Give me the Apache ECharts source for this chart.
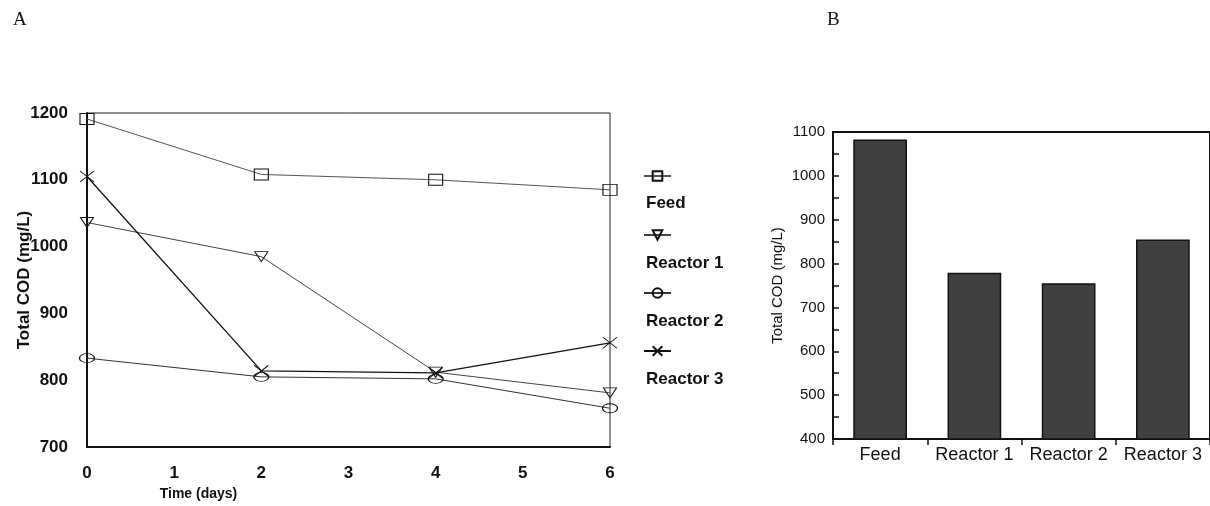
<!DOCTYPE html>
<html>
<head>
<meta charset="utf-8">
<script src="https://cdn.jsdelivr.net/npm/echarts@6/dist/echarts.min.js"></script>
<style>
  html, body { margin: 0; padding: 0; background: #fff; }
  #main { width: 1210px; height: 506px; }
</style>
</head>
<body>
<div id="main"></div>
<script>
// panel A: total COD over time
var days = [0, 2, 4, 6];
var seriesNames = ["Feed", "Reactor 1", "Reactor 2", "Reactor 3"];
var feedCod = [1191, 1108, 1100, 1085];
var reactor1Cod = [1036, 985, 812, 781];
var reactor2Cod = [833, 805, 802, 758];
var reactor3Cod = [1105, 814, 811, 856];

// panel B: average total COD
var barCategories = ["Feed", "Reactor 1", "Reactor 2", "Reactor 3"];
var barCod = [1083, 779, 755, 855];

var chart = echarts.init(document.getElementById("main"));

function pairs(xs, ys) {
  var out = [];
  for (var i = 0; i < xs.length; i++) out.push([xs[i], ys[i]]);
  return out;
}

var markers = {
  "Feed": { symbol: "rect", size: [14, 11] },
  "Reactor 1": { symbol: "triangle", size: [13, 10], rotate: 180 },
  "Reactor 2": { symbol: "circle", size: [15, 9] },
  "Reactor 3": { symbol: "path://M0,0L10,10M10,0L0,10", size: [14, 11] }
};
var lineColors = ["#555", "#444", "#333", "#111"];
var lineValues = [feedCod, reactor1Cod, reactor2Cod, reactor3Cod];

var series = [];
for (var i = 0; i < seriesNames.length; i++) {
  var m = markers[seriesNames[i]];
  series.push({
    name: seriesNames[i],
    type: "line",
    xAxisIndex: 0,
    yAxisIndex: 0,
    data: pairs(days, lineValues[i]),
    symbol: m.symbol,
    symbolSize: m.size,
    symbolRotate: m.rotate || 0,
    clip: false,
    lineStyle: { color: lineColors[i], width: i === 3 ? 1.3 : 1 },
    itemStyle: { color: "transparent", borderColor: "#111", borderWidth: 1 },
    emphasis: { disabled: true },
    animation: false
  });
}
series.push({
  name: "COD",
  type: "bar",
  xAxisIndex: 1,
  yAxisIndex: 1,
  data: barCod,
  barWidth: "57%",
  itemStyle: { color: "#404040", borderColor: "#111", borderWidth: 1.5 },
  animation: false
});

// legend: icon row and text row drawn as separate legends (text sits under the icon)
var legends = [];
var legendIconTop = [165, 224, 282, 340];
var legendTextTop = [189, 249, 307, 365];
for (var k = 0; k < seriesNames.length; k++) {
  legends.push({
    data: [seriesNames[k]],
    left: 638,
    top: legendIconTop[k],
    itemWidth: 27,
    itemHeight: 12,
    formatter: function () { return ""; },
    selectedMode: false
  });
  legends.push({
    data: [seriesNames[k]],
    left: 635,
    top: legendTextTop[k],
    itemWidth: 0,
    itemHeight: 0,
    selectedMode: false,
    textStyle: { fontFamily: "Arial, Liberation Sans", fontWeight: "bold", fontSize: 17, color: "#111", lineHeight: 19 }
  });
}

var boldText = { fontFamily: "Arial, Liberation Sans", fontWeight: "bold", color: "#111" };
function plain(v) { return String(v); }

chart.setOption({
  backgroundColor: "#fff",
  title: [
    { text: "A", left: 8, top: 6, textStyle: { fontFamily: "Liberation Serif, Times New Roman", fontWeight: "normal", fontSize: 19, color: "#111" } },
    { text: "B", left: 822, top: 6, textStyle: { fontFamily: "Liberation Serif, Times New Roman", fontWeight: "normal", fontSize: 19, color: "#111" } }
  ],
  legend: legends,
  grid: [
    { left: 87, top: 113, right: 600, bottom: 59, show: true, borderColor: "#222", borderWidth: 1 },
    { left: 833, top: 132, right: 0, bottom: 67, show: true, borderColor: "#111", borderWidth: 2 }
  ],
  xAxis: [
    {
      gridIndex: 0,
      type: "value",
      min: 0,
      max: 6,
      interval: 1,
      name: "Time (days)",
      nameLocation: "middle",
      nameGap: 40,
      nameTextStyle: Object.assign({ fontSize: 14, padding: [0, 300, 0, 0] }, boldText),
      axisLine: { lineStyle: { color: "#111", width: 2 } },
      axisTick: { show: false },
      splitLine: { show: false },
      axisLabel: Object.assign({ fontSize: 17, margin: 18, formatter: plain }, boldText)
    },
    {
      gridIndex: 1,
      type: "category",
      data: barCategories,
      axisLine: { lineStyle: { color: "#111", width: 2 } },
      axisTick: { show: true, length: 6, inside: false, lineStyle: { color: "#111", width: 1.5 } },
      axisLabel: { interval: 0, fontFamily: "Arial, Liberation Sans", fontSize: 18, color: "#111", margin: 7 }
    }
  ],
  yAxis: [
    {
      gridIndex: 0,
      type: "value",
      min: 700,
      max: 1200,
      interval: 100,
      name: "Total COD (mg/L)",
      nameLocation: "middle",
      nameGap: 54,
      nameMoveOverlap: false,
      nameTextStyle: Object.assign({ fontSize: 17 }, boldText),
      axisLine: { show: true, lineStyle: { color: "#111", width: 2 } },
      axisTick: { show: false },
      splitLine: { show: false },
      axisLabel: Object.assign({ fontSize: 17, margin: 19, formatter: plain }, boldText)
    },
    {
      gridIndex: 1,
      type: "value",
      min: 400,
      max: 1100,
      interval: 100,
      name: "Total COD (mg/L)",
      nameLocation: "middle",
      nameGap: 48,
      nameTextStyle: { fontFamily: "Arial, Liberation Sans", fontSize: 15, color: "#111" },
      axisLine: { show: true, lineStyle: { color: "#111", width: 2 } },
      axisTick: { show: true, inside: true, length: 6, lineStyle: { color: "#111", width: 1.5 } },
      minorTick: { show: true, splitNumber: 2, length: 6, lineStyle: { color: "#111", width: 1.5 } },
      splitLine: { show: false },
      axisLabel: { fontFamily: "Arial, Liberation Sans", fontSize: 15, color: "#111", margin: 8, formatter: plain }
    }
  ],
  series: series
});

window.onresize = function () { chart.resize(); };
</script>
</body>
</html>
